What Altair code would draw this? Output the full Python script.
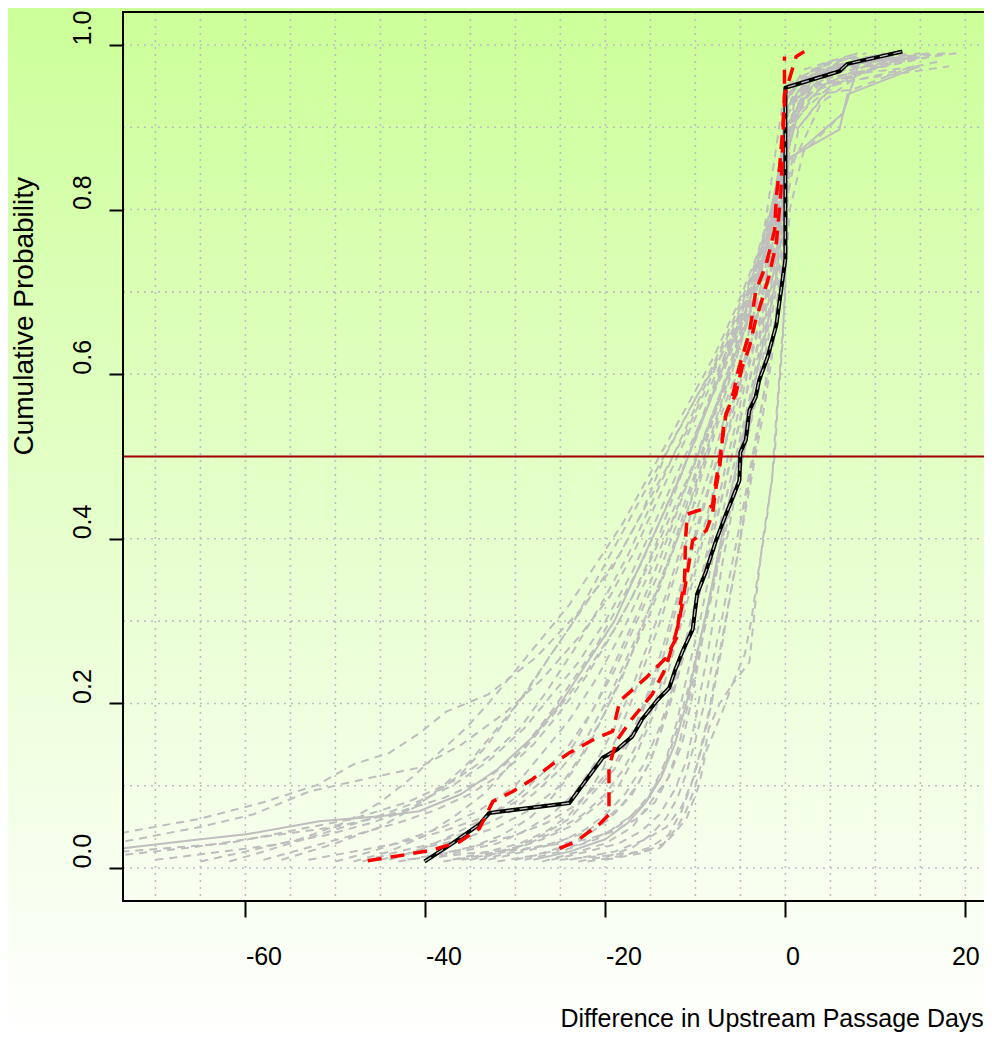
import altair as alt
import pandas as pd

# ---------------- data ----------------
x_ticks = [-60, -40, -20, 0, 20]
y_ticks = [0.0, 0.2, 0.4, 0.6, 0.8, 1.0]
grid_x = [-70, -65, -60, -55, -50, -45, -40, -35, -30, -25, -20, -15, -10, -5, 0, 5, 10, 15, 20]
grid_y = [0.0, 0.1, 0.2, 0.3, 0.4, 0.5, 0.6, 0.7, 0.8, 0.9, 1.0]
median_level = [0.5]

# observed curve (black)
observed = [(-40.1, 0.008), (-37, 0.03), (-34, 0.053), (-32.9, 0.067), (-24, 0.079), (-22.6, 0.10),
            (-20.3, 0.134), (-18.7, 0.144), (-17, 0.16), (-15.9, 0.181), (-14.3, 0.203), (-12.9, 0.219),
            (-12.3, 0.239), (-11.4, 0.264), (-10.3, 0.29), (-9.8, 0.333), (-8.8, 0.361), (-7.7, 0.398),
            (-6.6, 0.43), (-6, 0.446), (-5.1, 0.471), (-5, 0.505), (-4.4, 0.52), (-4, 0.556), (-3.3, 0.572),
            (-2.9, 0.593), (-2, 0.62), (-1, 0.66), (-0.5, 0.70), (0, 0.74), (0, 0.948), (6, 0.968),
            (6.9, 0.977), (13, 0.992)]

# red dashed curves
red_a = [(-46.4, 0.009), (-42.9, 0.015), (-39.2, 0.022), (-36.2, 0.032), (-34, 0.048), (-32.5, 0.081),
         (-30.3, 0.093), (-28.1, 0.108), (-25.9, 0.126), (-24, 0.14), (-21, 0.158), (-19.2, 0.166),
         (-18.4, 0.203), (-15.5, 0.231), (-13.3, 0.255), (-12.1, 0.28), (-11.6, 0.325), (-11.2, 0.349),
         (-11.1, 0.398), (-10.9, 0.43), (-8.1, 0.44), (-7.7, 0.471), (-7.2, 0.503), (-6.8, 0.544),
         (-5.9, 0.572), (-5.1, 0.61), (-4, 0.65), (-3.3, 0.70), (-2.1, 0.735), (-1.2, 0.775), (-1, 0.816),
         (-0.67, 0.848), (-0.3, 0.897), (-0.1, 0.938), (0.1, 0.946), (1.2, 0.986), (2.1, 0.992)]
red_b = [(-25.1, 0.024), (-23.3, 0.032), (-20.7, 0.053), (-19.6, 0.065), (-19.6, 0.122), (-18.8, 0.154),
         (-17, 0.182), (-14.8, 0.211), (-13.3, 0.243), (-12.5, 0.272), (-11.8, 0.30), (-11.4, 0.325),
         (-10.3, 0.398), (-8.8, 0.41), (-8.1, 0.43), (-7.7, 0.463), (-7.3, 0.487), (-7, 0.52), (-6.6, 0.552),
         (-5.5, 0.576), (-4.8, 0.609), (-4, 0.633), (-3.3, 0.666), (-2.6, 0.69), (-1.8, 0.72), (-1, 0.76),
         (-0.5, 0.82), (-0.3, 0.88), (-0.1, 0.93), (-0.1, 0.986)]

# simulated curves (gray, dashed)
g01 = [(-80, 0.035), (-73.6, 0.043), (-65, 0.06), (-58, 0.08), (-52, 0.101), (-48, 0.126), (-44, 0.14),
       (-40.5, 0.165), (-37.7, 0.19), (-33, 0.211), (-27.7, 0.256), (-22.9, 0.312), (-19.2, 0.365),
       (-16, 0.43), (-13.4, 0.5), (-9.9, 0.572), (-5.5, 0.653), (-2.9, 0.735), (-1.8, 0.816), (-1, 0.877),
       (-0.3, 0.93), (2, 0.96), (8, 0.98), (18, 0.99)]
g02 = [(-78, 0.03), (-73.6, 0.032), (-65, 0.05), (-59.2, 0.065), (-52.9, 0.093), (-46, 0.11), (-40.7, 0.122),
       (-36, 0.15), (-31, 0.19), (-27, 0.23), (-23, 0.28), (-19.5, 0.33), (-17, 0.38), (-14.5, 0.44),
       (-12, 0.5), (-9, 0.57), (-6, 0.64), (-3.5, 0.71), (-1.5, 0.79), (-0.5, 0.86), (0, 0.92), (4, 0.96),
       (14.9, 0.974)]
g04 = [(-78, 0.012), (-73.6, 0.016), (-66, 0.025), (-58, 0.038), (-50, 0.05), (-44, 0.065), (-38, 0.085),
       (-33, 0.11), (-29, 0.145), (-25.5, 0.19), (-22, 0.24), (-19, 0.29), (-16, 0.35), (-13.5, 0.41),
       (-11, 0.47), (-8.5, 0.54), (-6, 0.61), (-3.8, 0.68), (-2, 0.75), (-0.8, 0.82), (0, 0.9), (2.3, 0.938),
       (7.5, 0.946), (14.5, 0.975)]
g05 = [(-61.8, 0.008), (-58, 0.02), (-52, 0.04), (-46, 0.06), (-41, 0.08), (-37, 0.1), (-33, 0.13),
       (-29, 0.17), (-26, 0.21), (-23, 0.25), (-20, 0.3), (-17, 0.36), (-14.5, 0.42), (-12, 0.48),
       (-9.5, 0.54), (-7, 0.6), (-4.5, 0.67), (-2.5, 0.74), (-1, 0.81), (0, 0.88), (5.2, 0.95), (12, 0.985)]
g06 = [(-50, 0.008), (-46, 0.02), (-42, 0.035), (-38, 0.05), (-34, 0.07), (-30, 0.1), (-27, 0.14),
       (-24, 0.18), (-21, 0.23), (-18, 0.29), (-15.5, 0.35), (-13, 0.41), (-10.5, 0.48), (-8, 0.55),
       (-5.5, 0.62), (-3.5, 0.69), (-2, 0.76), (-0.7, 0.83), (0, 0.92), (3, 0.97), (9, 0.99)]
g07 = [(-47, 0.008), (-43, 0.02), (-39, 0.03), (-35, 0.045), (-31, 0.065), (-28, 0.09), (-25, 0.12),
       (-22, 0.16), (-19.5, 0.21), (-17, 0.27), (-14.5, 0.33), (-12, 0.4), (-10, 0.46), (-8, 0.53),
       (-6, 0.6), (-4, 0.67), (-2.5, 0.73), (-1.2, 0.8), (-0.3, 0.87), (0, 0.95), (5, 0.98), (13, 0.99)]
g08 = [(-44, 0.01), (-40, 0.025), (-36, 0.035), (-32, 0.05), (-28.5, 0.07), (-25, 0.1), (-22.5, 0.14),
       (-20, 0.19), (-17.5, 0.25), (-15, 0.31), (-13, 0.37), (-11, 0.43), (-9, 0.5), (-7, 0.57), (-5, 0.64),
       (-3, 0.71), (-1.5, 0.78), (-0.5, 0.85), (0, 0.93), (2, 0.97), (8, 0.99)]
g09 = [(-40, 0.01), (-36, 0.02), (-32, 0.03), (-29, 0.045), (-26, 0.065), (-23.5, 0.09), (-21, 0.13),
       (-19, 0.17), (-17, 0.22), (-15, 0.28), (-13, 0.34), (-11, 0.41), (-9.5, 0.47), (-7.5, 0.54),
       (-5.5, 0.6), (-3.5, 0.67), (-2, 0.74), (-0.8, 0.81), (0, 0.89), (4, 0.95), (11, 0.985)]
g10 = [(-38, 0.008), (-34, 0.015), (-30, 0.025), (-27, 0.04), (-24, 0.06), (-21.5, 0.09), (-19, 0.12),
       (-17, 0.16), (-15.5, 0.2), (-13.5, 0.26), (-12, 0.32), (-10.5, 0.38), (-9, 0.44), (-7.5, 0.5),
       (-6, 0.56), (-4.5, 0.62), (-3, 0.68), (-1.5, 0.75), (-0.5, 0.82), (0, 0.9), (3, 0.95), (18.2, 0.974)]
g11 = [(-35, 0.01), (-31, 0.02), (-27, 0.035), (-24, 0.05), (-21, 0.075), (-18.5, 0.1), (-16.5, 0.14),
       (-14.5, 0.19), (-13, 0.24), (-11.5, 0.3), (-10, 0.36), (-8.5, 0.43), (-7, 0.5), (-5.5, 0.57),
       (-4, 0.63), (-2.5, 0.7), (-1.2, 0.77), (-0.3, 0.84), (0, 0.93), (6, 0.97), (19, 0.99)]
g12 = [(-32, 0.008), (-28, 0.015), (-25, 0.025), (-22, 0.04), (-19.5, 0.06), (-17, 0.09), (-15, 0.13),
       (-13.5, 0.18), (-12, 0.23), (-10.5, 0.29), (-9, 0.36), (-7.5, 0.43), (-6, 0.5), (-4.5, 0.57),
       (-3, 0.64), (-1.8, 0.71), (-0.8, 0.78), (0, 0.86), (0.8, 0.9), (3, 0.96), (10, 0.985)]
g13 = [(-29, 0.01), (-25, 0.02), (-21, 0.035), (-18, 0.055), (-15.5, 0.08), (-13.5, 0.12), (-12, 0.17),
       (-10.5, 0.23), (-9, 0.3), (-7.5, 0.37), (-6, 0.44), (-4.5, 0.51), (-3, 0.58), (-1.8, 0.65),
       (-0.8, 0.72), (0, 0.8), (0.5, 0.88), (2, 0.94), (7, 0.98)]
g14 = [(-25, 0.01), (-20, 0.015), (-16, 0.02), (-14, 0.024), (-12.5, 0.04), (-11, 0.06), (-9.6, 0.1),
       (-8.8, 0.142), (-7, 0.19), (-5.9, 0.223), (-4, 0.25), (-3.3, 0.325), (-2.5, 0.4), (-1.5, 0.47),
       (-1, 0.55), (-0.5, 0.62), (0, 0.7), (0, 0.8), (1, 0.86), (4, 0.93), (9, 0.97), (15, 0.985)]
g15 = [(-22, 0.008), (-18, 0.015), (-15, 0.025), (-13, 0.04), (-11.5, 0.07), (-10.5, 0.1), (-9.5, 0.14),
       (-8.5, 0.19), (-7.5, 0.25), (-6.5, 0.31), (-5.5, 0.37), (-4.5, 0.43), (-3.5, 0.49), (-2.5, 0.55),
       (-1.5, 0.62), (-0.8, 0.69), (0, 0.76), (0.4, 0.84), (1.5, 0.9), (5, 0.95), (12, 0.98)]
g16 = [(-27, 0.008), (-23, 0.02), (-20, 0.03), (-17, 0.05), (-15, 0.08), (-13, 0.11), (-11.5, 0.15),
       (-10.5, 0.2), (-9.5, 0.26), (-8.5, 0.32), (-7.5, 0.38), (-6, 0.45), (-5, 0.51), (-3.8, 0.57),
       (-2.5, 0.64), (-1.3, 0.7), (-0.4, 0.77), (0, 0.85), (0.8, 0.91), (3, 0.97), (8, 0.99)]
g17 = [(-80, 0.015), (-73.6, 0.02), (-62, 0.03), (-55, 0.045), (-48, 0.06), (-42, 0.08), (-37, 0.105),
       (-33, 0.135), (-29.5, 0.17), (-26.5, 0.215), (-23.5, 0.265), (-20.5, 0.32), (-17.5, 0.38),
       (-15, 0.44), (-12.5, 0.5), (-10, 0.56), (-7.5, 0.62), (-5, 0.68), (-3, 0.74), (-1.3, 0.8),
       (-0.3, 0.87), (0, 0.94), (4, 0.97), (15, 0.99)]
g18 = [(-58, 0.01), (-53, 0.025), (-48, 0.04), (-43, 0.055), (-39, 0.07), (-35, 0.09), (-31.5, 0.115),
       (-28, 0.15), (-25, 0.19), (-22, 0.235), (-19.5, 0.28), (-17, 0.33), (-14.5, 0.39), (-12.5, 0.45),
       (-10.5, 0.51), (-8.5, 0.57), (-6.5, 0.63), (-4.5, 0.69), (-2.8, 0.75), (-1.3, 0.81), (-0.3, 0.88),
       (0, 0.94), (6, 0.975), (16, 0.99)]
g19 = [(-53, 0.01), (-48, 0.02), (-43, 0.03), (-38, 0.045), (-34, 0.06), (-30, 0.08), (-26.5, 0.11),
       (-23.5, 0.15), (-21, 0.2), (-18.5, 0.26), (-16, 0.32), (-13.8, 0.38), (-11.8, 0.44), (-9.8, 0.5),
       (-7.8, 0.56), (-5.8, 0.62), (-3.9, 0.68), (-2.2, 0.75), (-0.9, 0.82), (0, 0.9), (3, 0.96), (9, 0.985)]
g20 = [(-45, 0.01), (-41, 0.02), (-37, 0.04), (-33.5, 0.06), (-30, 0.085), (-27, 0.115), (-24, 0.15),
       (-21.5, 0.19), (-19, 0.24), (-16.5, 0.3), (-14, 0.36), (-12, 0.42), (-10, 0.48), (-8.3, 0.54),
       (-6.5, 0.6), (-4.8, 0.66), (-3, 0.72), (-1.7, 0.78), (-0.6, 0.84), (0, 0.91), (2, 0.95), (6, 0.98)]
g21 = [(-42, 0.01), (-38, 0.018), (-34, 0.028), (-30, 0.04), (-26.5, 0.055), (-23.5, 0.075), (-21, 0.1),
       (-18.8, 0.13), (-16.8, 0.17), (-15, 0.22), (-13.3, 0.28), (-11.7, 0.34), (-10.2, 0.4), (-8.6, 0.46),
       (-7, 0.52), (-5.4, 0.58), (-3.8, 0.64), (-2.4, 0.7), (-1.2, 0.77), (-0.3, 0.84), (0, 0.92), (3, 0.96),
       (14, 0.985)]
g22 = [(-36, 0.01), (-32, 0.018), (-28.5, 0.03), (-25.5, 0.045), (-22.5, 0.065), (-20, 0.09), (-18, 0.12),
       (-16, 0.16), (-14.2, 0.21), (-12.5, 0.27), (-11, 0.33), (-9.6, 0.39), (-8.2, 0.45), (-6.8, 0.51),
       (-5.2, 0.57), (-3.7, 0.63), (-2.3, 0.69), (-1.1, 0.76), (-0.2, 0.83), (0, 0.91), (1.2, 0.95), (5, 0.98)]
g23 = [(-33, 0.01), (-29, 0.02), (-25.5, 0.03), (-22.5, 0.045), (-20, 0.065), (-17.8, 0.09), (-15.8, 0.125),
       (-14, 0.17), (-12.5, 0.22), (-11, 0.28), (-9.6, 0.34), (-8.2, 0.41), (-6.8, 0.48), (-5.3, 0.55),
       (-3.8, 0.62), (-2.4, 0.68), (-1.2, 0.75), (-0.3, 0.82), (0, 0.89), (2.5, 0.94), (10, 0.975)]
g24 = [(-30, 0.01), (-26, 0.02), (-22.5, 0.03), (-19.5, 0.045), (-17, 0.065), (-15, 0.09), (-13.3, 0.13),
       (-12, 0.18), (-10.8, 0.24), (-9.5, 0.3), (-8.2, 0.37), (-6.8, 0.44), (-5.5, 0.5), (-4, 0.57),
       (-2.7, 0.64), (-1.5, 0.71), (-0.6, 0.78), (0, 0.86), (1.5, 0.92), (5, 0.96), (18, 0.99)]
g25 = [(-26, 0.01), (-22, 0.02), (-18.5, 0.03), (-16, 0.045), (-14, 0.065), (-12.3, 0.095), (-11, 0.13),
       (-10, 0.18), (-9, 0.24), (-8, 0.3), (-7, 0.37), (-5.8, 0.44), (-4.5, 0.51), (-3.2, 0.58), (-2, 0.65),
       (-1, 0.72), (-0.2, 0.79), (0, 0.87), (1, 0.93), (4, 0.97), (11, 0.99)]
g26 = [(-24, 0.01), (-19, 0.02), (-15.5, 0.035), (-13.2, 0.05), (-11.5, 0.075), (-10.2, 0.11), (-9.2, 0.15),
       (-8.2, 0.2), (-7.2, 0.26), (-6.3, 0.32), (-5.3, 0.38), (-4.3, 0.45), (-3.2, 0.52), (-2.2, 0.59),
       (-1.2, 0.66), (-0.5, 0.73), (0, 0.8), (0, 0.88), (2, 0.94), (6, 0.97), (13, 0.985)]
g27 = [(-20, 0.01), (-16, 0.018), (-13.5, 0.03), (-12, 0.05), (-11, 0.07), (-10, 0.1), (-9, 0.14),
       (-8.5, 0.17), (-7.3, 0.2), (-5.9, 0.223), (-4.5, 0.26), (-3.8, 0.3), (-3, 0.36), (-2, 0.43),
       (-1.2, 0.5), (-0.8, 0.57), (-0.3, 0.64), (0, 0.72), (0.5, 0.8), (2, 0.87), (6.4, 0.917),
       (8.2, 0.978), (14, 0.99)]
g28 = [(-56, 0.01), (-50, 0.03), (-45, 0.05), (-41, 0.075), (-38, 0.1), (-35, 0.13), (-32, 0.17),
       (-29, 0.21), (-26, 0.26), (-23.5, 0.3), (-21, 0.35), (-18.5, 0.4), (-16, 0.45), (-13.5, 0.5),
       (-11, 0.55), (-8.5, 0.6), (-6, 0.66), (-3.8, 0.72), (-2, 0.78), (-0.8, 0.84), (0, 0.9), (4, 0.95),
       (12, 0.98)]
g29 = [(-65, 0.008), (-60, 0.02), (-54, 0.035), (-49, 0.055), (-45, 0.08), (-41.5, 0.11), (-38.5, 0.14),
       (-35.5, 0.17), (-33, 0.2), (-30, 0.24), (-27, 0.28), (-24, 0.32), (-21, 0.37), (-18, 0.42),
       (-15.5, 0.47), (-13, 0.52), (-10.5, 0.57), (-8, 0.62), (-5.5, 0.68), (-3.3, 0.74), (-1.6, 0.8),
       (-0.5, 0.86), (0, 0.92), (3, 0.96), (10, 0.985)]
g30 = [(-48, 0.008), (-44, 0.02), (-40, 0.04), (-36.5, 0.065), (-33.5, 0.09), (-31, 0.12), (-28.5, 0.155),
       (-26, 0.19), (-23.5, 0.23), (-21, 0.27), (-18.5, 0.32), (-16, 0.37), (-14, 0.42), (-12, 0.47),
       (-10, 0.52), (-8, 0.58), (-6, 0.64), (-4, 0.7), (-2.3, 0.76), (-1, 0.82), (-0.2, 0.88), (0, 0.93),
       (2, 0.96), (7, 0.98)]
g31 = [(-43, 0.008), (-39, 0.015), (-35, 0.025), (-31.5, 0.04), (-28.5, 0.06), (-26, 0.085), (-23.8, 0.115),
       (-21.8, 0.15), (-20, 0.19), (-18.2, 0.23), (-16.4, 0.28), (-14.6, 0.33), (-12.8, 0.38), (-11, 0.44),
       (-9.3, 0.5), (-7.6, 0.56), (-5.8, 0.62), (-4, 0.68), (-2.5, 0.74), (-1.2, 0.8), (-0.3, 0.86),
       (0, 0.92), (2.5, 0.96), (9, 0.985)]
g32 = [(-70, 0.01), (-64, 0.018), (-57, 0.028), (-51, 0.04), (-46, 0.055), (-42, 0.07), (-39, 0.09),
       (-36, 0.115), (-33.5, 0.145), (-31, 0.18), (-28.5, 0.22), (-26, 0.26), (-23.5, 0.3), (-21, 0.34),
       (-18.5, 0.38), (-16, 0.43), (-13.5, 0.48), (-11, 0.53), (-8.5, 0.59), (-6, 0.65), (-3.8, 0.71),
       (-2, 0.77), (-0.8, 0.83), (0, 0.9), (5, 0.95), (17, 0.98)]
g33 = [(-37, 0.01), (-33, 0.02), (-29.5, 0.03), (-26.5, 0.045), (-24, 0.065), (-22, 0.09), (-20.3, 0.12),
       (-18.7, 0.16), (-17.2, 0.2), (-15.7, 0.245), (-14.2, 0.29), (-12.7, 0.34), (-11.2, 0.39),
       (-9.7, 0.44), (-8.2, 0.49), (-6.7, 0.55), (-5.2, 0.61), (-3.6, 0.67), (-2.2, 0.73), (-1, 0.79),
       (-0.2, 0.86), (0, 0.93), (1.5, 0.96), (6, 0.985)]
g34 = [(-34, 0.01), (-30, 0.02), (-26, 0.03), (-23, 0.04), (-20.5, 0.055), (-18.3, 0.075), (-16.5, 0.1),
       (-15, 0.13), (-13.7, 0.17), (-12.5, 0.21), (-11.3, 0.26), (-10.1, 0.31), (-8.9, 0.36), (-7.7, 0.42),
       (-6.4, 0.48), (-5.1, 0.54), (-3.8, 0.6), (-2.5, 0.66), (-1.4, 0.72), (-0.5, 0.79), (0, 0.86),
       (0.3, 0.92), (3, 0.96), (8, 0.99)]
g35 = [(-23, 0.008), (-19.5, 0.015), (-17, 0.025), (-15, 0.04), (-13.3, 0.06), (-12, 0.085), (-11, 0.115),
       (-10, 0.155), (-9, 0.2), (-8.1, 0.25), (-7.1, 0.3), (-6.1, 0.36), (-5, 0.42), (-4, 0.48), (-3, 0.54),
       (-2, 0.6), (-1.2, 0.66), (-0.5, 0.72), (0, 0.78), (0, 0.86), (1, 0.92), (4.5, 0.96), (10, 0.985)]
g36 = [(-40, 0.012), (-35, 0.018), (-30, 0.022), (-26, 0.028), (-22, 0.035), (-19, 0.045), (-16.5, 0.06),
       (-14.5, 0.08), (-13, 0.11), (-11.8, 0.15), (-10.8, 0.2), (-9.8, 0.25), (-8.8, 0.3), (-7.8, 0.35),
       (-6.8, 0.41), (-5.7, 0.47), (-4.6, 0.53), (-3.4, 0.59), (-2.3, 0.65), (-1.3, 0.71), (-0.5, 0.77),
       (0, 0.84), (0.6, 0.9), (3, 0.95), (13, 0.98)]

# simulated curves (gray, solid)
s01 = [(-80, 0.02), (-73.6, 0.024), (-65, 0.035), (-59.9, 0.041), (-51.8, 0.057), (-45, 0.063),
       (-40.7, 0.069), (-36, 0.09), (-32, 0.12), (-28, 0.16), (-25, 0.2), (-22, 0.25), (-19, 0.3),
       (-16.5, 0.36), (-14, 0.42), (-11.5, 0.48), (-9, 0.55), (-6.5, 0.62), (-4, 0.69), (-2, 0.76),
       (-0.6, 0.83), (0, 0.86), (6, 0.897), (6.9, 0.94), (14.9, 0.974)]
s02 = [(-28, 0.01), (-24, 0.02), (-20, 0.035), (-17.5, 0.055), (-15.5, 0.08), (-13.8, 0.11), (-12.3, 0.15),
       (-11, 0.2), (-9.8, 0.26), (-8.6, 0.32), (-7.3, 0.39), (-6, 0.46), (-4.6, 0.53), (-3.2, 0.6),
       (-2, 0.66), (-1, 0.72), (-0.4, 0.8), (0.4, 0.86), (6.4, 0.917), (8.2, 0.978), (15, 0.985)]

gray_dashed = [g01, g02, g04, g05, g06, g07, g08, g09, g10, g11, g12, g13, g14, g15, g16, g17, g18,
               g19, g20, g21, g22, g23, g24, g25, g26, g27, g28, g29, g30, g31, g32, g33, g34, g35, g36]
gray_solid = [s01, s02]
red_curves = [red_a, red_b]


def to_frame(curves, prefix):
    rows = []
    for i, c in enumerate(curves):
        for j, (x, y) in enumerate(c):
            rows.append({"x": x, "y": y, "id": f"{prefix}{i}", "o": j})
    return pd.DataFrame(rows)


# ---------------- layout ----------------
W, H = 861, 889
PAD = {"left": 115, "top": 4, "right": 0, "bottom": 131}
FONT = "Liberation Sans"
xs = alt.Scale(domain=[-73.6, 22.07], nice=False, zero=False)
ys = alt.Scale(domain=[-0.04, 1.04], nice=False, zero=False)

xaxis = alt.Axis(values=x_ticks, title="Difference in Upstream Passage Days", grid=False, domain=False,
                 tickSize=16, tickWidth=2, tickColor="black", zindex=2,
                 labelFont=FONT, labelFontSize=25, labelColor="black",
                 labelAlign={"condition": {"test": "datum.value >= 20", "value": "center"}, "value": "left"},
                 labelBaseline="alphabetic", labelPadding=47, labelFlush=False, labelOverlap=False,
                 labelExpr="'' + datum.value",
                 titleFont=FONT, titleFontSize=25, titleFontWeight="normal", titleColor="black",
                 titleX=437, titleY=125, titleAlign="left", titleBaseline="alphabetic")
yaxis = alt.Axis(values=y_ticks, format=".1f", title="Cumulative Probability", grid=False, domain=False,
                 tickSize=14, tickWidth=2, tickColor="black", zindex=2,
                 labelFont=FONT, labelFontSize=25, labelColor="black", labelAngle=270,
                 labelAlign="left", labelBaseline="alphabetic", labelPadding=19, labelFlush=False,
                 labelOverlap=False,
                 titleFont=FONT, titleFontSize=28, titleFontWeight="normal", titleColor="black",
                 titleAngle=270, titleX=-91, titleY=443, titleAlign="left", titleBaseline="alphabetic")

X = lambda f: alt.X(f, type="quantitative", scale=xs, axis=xaxis)
Y = lambda f: alt.Y(f, type="quantitative", scale=ys, axis=yaxis)

gradient = alt.Gradient(gradient="linear",
                        stops=[alt.GradientStop(color="#ccff99", offset=0),
                               alt.GradientStop(color="#ffffff", offset=1)],
                        x1=0, x2=0, y1=0, y2=1)

one_row = alt.Data(values=[{"a": 1}])
bg = alt.Chart(one_row).mark_rect(fill=gradient, clip=False).encode(
    x=alt.value(-PAD["left"]), x2=alt.value(W + 10), y=alt.value(-PAD["top"]),
    y2=alt.value(H + PAD["bottom"] + 10))

grid_v = alt.Chart(pd.DataFrame({"gx": grid_x})).mark_rule(
    color="#bdbdc6", strokeWidth=1.6, strokeDash=[2, 5]).encode(
    x=X("gx"), y=alt.value(0), y2=alt.value(H))
grid_h = alt.Chart(pd.DataFrame({"gy": grid_y})).mark_rule(
    color="#bdbdc6", strokeWidth=1.6, strokeDash=[2, 5]).encode(
    y=Y("gy"), x=alt.value(0), x2=alt.value(W))

line_enc = dict(x=X("x"), y=Y("y"), detail="id:N", order="o:Q")

gray_d = alt.Chart(to_frame(gray_dashed, "d")).mark_line(
    color="#bebebe", strokeWidth=2, strokeDash=[8, 6], clip=True, strokeJoin="round").encode(**line_enc)
gray_s = alt.Chart(to_frame(gray_solid, "s")).mark_line(
    color="#bebebe", strokeWidth=2, clip=True, strokeJoin="round").encode(**line_enc)

hline = alt.Chart(pd.DataFrame({"m": median_level})).mark_rule(
    color="#a00000", strokeWidth=2.2).encode(y=Y("m"), x=alt.value(0), x2=alt.value(W))

obs_df = to_frame([observed], "b")
black = alt.Chart(obs_df).mark_line(color="black", strokeWidth=4, clip=True,
                                    strokeJoin="round").encode(**line_enc)
black_inner = alt.Chart(obs_df).mark_line(color="#bebebe", strokeWidth=1.2, strokeDash=[8, 6],
                                          clip=True).encode(**line_enc)
red = alt.Chart(to_frame(red_curves, "r")).mark_line(
    color="#ff0000", strokeWidth=3.5, strokeDash=[14, 9], clip=True, strokeJoin="round").encode(**line_enc)

# plot box (right side falls outside the page, as in the reference)
box = alt.Chart(one_row).mark_rect(fill=None, stroke="black", strokeWidth=2, clip=False).encode(
    x=alt.value(0), x2=alt.value(W + 20), y=alt.value(0), y2=alt.value(H))

chart = alt.layer(bg, grid_v, grid_h, gray_d, gray_s, hline, black, black_inner, red, box).properties(
    width=W, height=H,
    padding=PAD,
    autosize=alt.AutoSizeParams(type="none"),
).configure(font=FONT).configure_view(stroke=None)

chart.save("out.html", embed_options={"renderer": "svg", "actions": False})
